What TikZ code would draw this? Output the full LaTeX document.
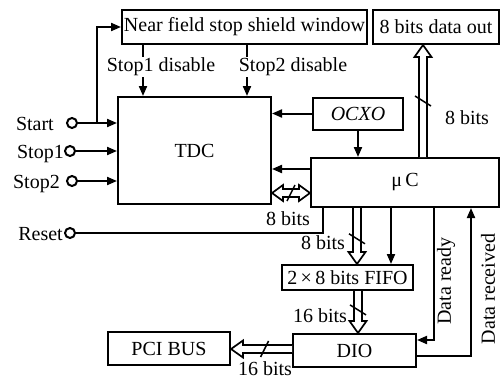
\documentclass[tikz,border=0pt]{standalone}
\usepackage{fontspec}
\setmainfont{Liberation Serif}
\usetikzlibrary{arrows.meta,calc}
\newcommand\hollowarrow[2]{%
  \path (#1) coordinate (ha) (#2) coordinate (hb);
  \coordinate (hh) at ($(hb)!12pt!(ha)$);
  \draw[busline] ($(ha)!4pt!90:(hb)$) -- ($(hh)!4pt!-90:(ha)$) -- ($(hh)!8.5pt!-90:(ha)$)
     -- (hb) -- ($(hh)!8.5pt!90:(ha)$) -- ($(hh)!4pt!90:(ha)$) -- ($(ha)!4pt!-90:(hb)$);
}
\newcommand\hollowboth[2]{%
  \path (#1) coordinate (ha) (#2) coordinate (hb);
  \coordinate (hh) at ($(hb)!11pt!(ha)$);
  \coordinate (hk) at ($(ha)!11pt!(hb)$);
  \draw[busline] ($(hk)!4pt!-90:(hb)$) -- ($(hh)!4pt!90:(ha)$) -- ($(hh)!8pt!90:(ha)$)
     -- (hb) -- ($(hh)!8pt!-90:(ha)$) -- ($(hh)!4pt!-90:(ha)$) -- ($(hk)!4pt!90:(hb)$)
     -- ($(hk)!8pt!90:(hb)$) -- (ha) -- ($(hk)!8pt!-90:(hb)$) -- cycle;
}
\begin{document}
\begin{tikzpicture}[x=1pt,y=-1pt,
  box/.style={draw, line width=2pt, inner sep=0pt, font=\fontsize{20}{23}\selectfont},
  txt/.style={inner sep=1pt, font=\fontsize{20}{23}\selectfont},
  arr/.style={line width=2pt, -{Triangle[length=10pt,width=8pt]}},
  ln/.style={line width=2pt},
  busline/.style={line width=1.7pt, line join=miter, fill=white},
  term/.style={circle, draw, line width=2pt, fill=white, minimum size=10pt, inner sep=0pt},
  slash/.style={line width=1.5pt}
]
\useasboundingbox (0,0) rectangle (502,380);
% blocks
\node[box, minimum width=245pt, minimum height=34pt] (near) at (244.5,27) {Near field stop shield window};
\node[box, minimum width=126pt, minimum height=34pt] (dout) at (436,27) {8 bits data out};
\node[box, minimum width=153pt, minimum height=107pt] (tdc) at (194.5,150.5) {TDC};
\node[box, minimum width=90pt, minimum height=32pt] (ocxo) at (358,113.5) {\itshape OCXO};
\node[box, minimum width=188pt, minimum height=49pt] (uc) at (405,182.5) {μ\,C};
\node[box, minimum width=131pt, minimum height=25pt] (fifo) at (347.5,277.5) {2\,×\,8 bits FIFO};
\node[box, minimum width=123pt, minimum height=33pt] (dio) at (354.5,350.5) {DIO};
\node[box, minimum width=122pt, minimum height=33pt] (pci) at (169,348.5) {PCI BUS};
% terminals
\node[term] (start) at (72,123) {};
\node[term] (stopa) at (70,151) {};
\node[term] (stopb) at (72,181) {};
\node[term] (reset) at (70,233) {};
\node[txt, anchor=base east] (startl) at (55,130) {Start};
\node[txt, anchor=base east] (stopal) at (65,158) {Stop1};
\node[txt, anchor=base east] (stopbl) at (61,188) {Stop2};
\node[txt, anchor=base east] (resetl) at (64,240) {Reset};
% helper coordinates
\coordinate (sb) at (97,0);
\coordinate (d1) at (143,0);
\coordinate (d2) at (247,0);
\coordinate (r1) at (323,0);
\coordinate (y1) at (0,169);
\coordinate (y2) at (0,193);
\coordinate (y3) at (0,349);
\coordinate (y4) at (0,340);
\coordinate (y5) at (0,356);
\coordinate (x1) at (423,0);
\coordinate (x2) at (357,0);
\coordinate (x3) at (391,0);
\coordinate (x4) at (358,0);
\coordinate (x5) at (434,0);
\coordinate (x6) at (471,0);
% inputs
\draw[arr] (start) -- (start -| tdc.west);
\draw[arr] (start -| sb) |- (near.west);
\draw[arr] (stopa) -- (stopa -| tdc.west);
\draw[arr] (stopb) -- (stopb -| tdc.west);
\draw[ln] (reset) -- (reset -| r1) -- (uc.south -| r1);
% disables
\draw[arr] (near.south -| d1) -- (tdc.north -| d1);
\draw[arr] (near.south -| d2) -- (tdc.north -| d2);
\node[txt, fill=white] (dis1) at (161,67) {Stop1 disable};
\node[txt, fill=white] (dis2) at (293,67) {Stop2 disable};
% OCXO and uC
\draw[arr] (ocxo.west) -- (ocxo.west -| tdc.east);
\draw[arr] (ocxo.south) -- (ocxo.south |- uc.north);
\draw[arr] (uc.west |- y1) -- (tdc.east |- y1);
\hollowboth{tdc.east |- y2}{uc.west |- y2}
\coordinate (m1) at ($(tdc.east |- y2)!0.5!(uc.west |- y2)$);
\draw[slash] ($(m1)+(-4,8)$) -- ($(m1)+(4,-8)$);
\node[txt] (l1) at (288,219) {8 bits};
% data out
\hollowarrow{uc.north -| x1}{dout.south -| x1}
\coordinate (m2) at ($(uc.north -| x1)!0.5!(dout.south -| x1)$);
\draw[slash] ($(m2)+(-8,-5)$) -- ($(m2)+(8,5)$);
\node[txt] (l2) at (467,118) {8 bits};
% FIFO
\hollowarrow{uc.south -| x2}{fifo.north -| x2}
\coordinate (m3) at ($(uc.south -| x2)!0.55!(fifo.north -| x2)$);
\draw[slash] ($(m3)+(-8,-5)$) -- ($(m3)+(8,5)$);
\node[txt] (l3) at (323,243) {8 bits};
\draw[arr] (uc.south -| x3) -- (fifo.north -| x3);
\hollowarrow{fifo.south -| x4}{dio.north -| x4}
\coordinate (m4) at ($(fifo.south -| x4)!0.45!(dio.north -| x4)$);
\draw[slash] ($(m4)+(-8,-5)$) -- ($(m4)+(8,5)$);
\node[txt] (l4) at (320,316) {16 bits};
% PCI
\hollowarrow{dio.west |- y3}{pci.east |- y3}
\coordinate (m5) at ($(dio.west |- y3)!0.45!(pci.east |- y3)$);
\draw[slash] ($(m5)+(-4,8)$) -- ($(m5)+(4,-8)$);
\node[txt, anchor=base] (l5) at (265,375) {16 bits};
% handshake
\draw[arr] (uc.south -| x5) |- (dio.east |- y4);
\draw[arr] (dio.east |- y5) -| (uc.south -| x6);
\node[txt, rotate=90] (dr) at (446,281) {Data ready};
\node[txt, rotate=90] (drc) at (488,289) {Data received};
\end{tikzpicture}
\end{document}
